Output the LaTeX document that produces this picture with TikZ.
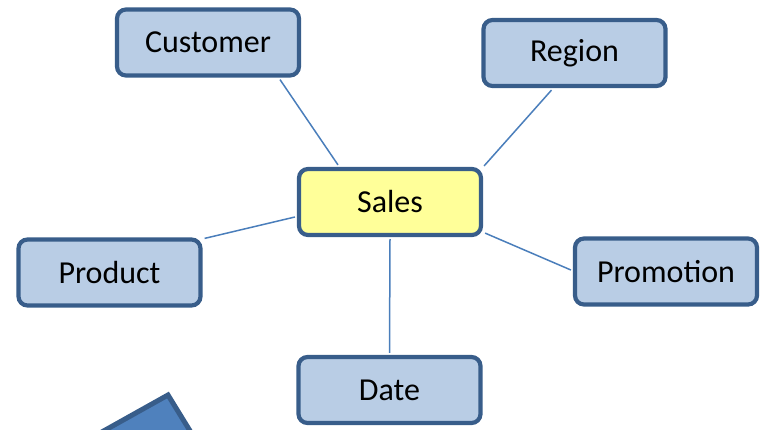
\documentclass[tikz,border=0pt]{standalone}
\usepackage{fontspec}
\setmainfont{Carlito}
\definecolor{bordc}{HTML}{385D8A}
\definecolor{boxfill}{HTML}{B9CDE5}
\definecolor{salesfill}{HTML}{FFFF99}
\definecolor{linec}{HTML}{4A7EBB}
\definecolor{trifill}{HTML}{4F81BD}
\begin{document}
\begin{tikzpicture}[x=1pt,y=-1pt,
  dim/.style={draw=bordc,line width=4.2pt,fill=boxfill,rounded corners=9pt,
    minimum width=182pt,minimum height=66pt,inner sep=0pt,
    font=\fontsize{32}{38}\selectfont},
  fact/.style={dim,fill=salesfill},
  link/.style={draw=linec,line width=1.5pt}]
\useasboundingbox (0,0) rectangle (765,429);
\begin{scope}
\clip (0,0) rectangle (765,429);
\draw[draw=bordc,line width=5pt,fill=trifill,line join=miter] (66,452) -- (168,395) -- (203,452) -- cycle;
\end{scope}
\node[dim] (customer) at (208,42.5) {\raisebox{-1.5pt}{Customer}};
\node[dim] (region) at (574.5,53) {\raisebox{-1.5pt}{Region}};
\node[fact] (sales) at (390,202) {\raisebox{-1.5pt}{Sales}};
\node[dim] (product) at (109.5,272.5) {\raisebox{-1.5pt}{Product}};
\node[dim] (promotion) at (666,271.5) {\raisebox{-1.5pt}{Promotion}};
\node[dim] (date) at (389.5,390) {\raisebox{-1.5pt}{Date}};
\draw[link] ([xshift=72pt,yshift=-2pt]customer.south) -- ([xshift=-52pt,yshift=2pt]sales.north);
\draw[link] ([xshift=-23pt,yshift=-2pt]region.south) -- ([xshift=1pt,yshift=1pt]sales.north east);
\draw[link] ([xshift=2pt,yshift=-1pt]product.north east) -- ([xshift=-2pt,yshift=-15pt]sales.west);
\draw[link] ([xshift=2pt,yshift=4pt]sales.south east) -- ([xshift=-2pt,yshift=1.5pt]promotion.west);
\draw[link] ([yshift=-2pt]sales.south) -- ([yshift=2pt]date.north);
\end{tikzpicture}
\end{document}
